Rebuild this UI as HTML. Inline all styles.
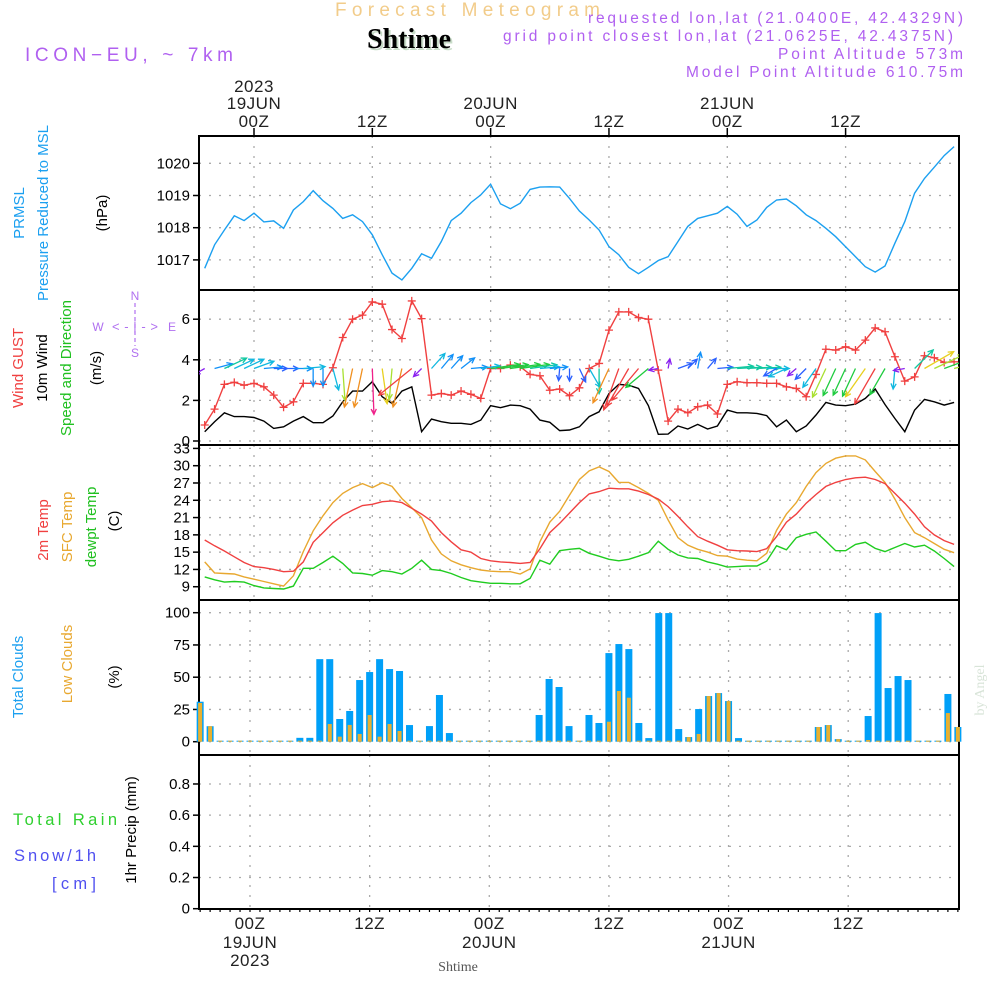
<!DOCTYPE html>
<html><head><meta charset="utf-8">
<style>
html,body{margin:0;padding:0;background:#fff;}
svg{display:block;font-family:"Liberation Sans",sans-serif;}
</style></head>
<body>
<svg id="chart" width="1000" height="1000" viewBox="0 0 1000 1000" xmlns="http://www.w3.org/2000/svg">
  <defs>
    <clipPath id="windClip"><rect x="199" y="290" width="760" height="155"/></clipPath>
  </defs>
  <rect x="0" y="0" width="1000" height="1000" fill="#fff"/>
  <!-- header -->
  <text x="335" y="16" font-size="19" fill="#f2cc8a" textLength="265" lengthAdjust="spacing">Forecast Meteogram</text>
  <text x="411" y="50" text-anchor="middle" font-size="28" font-weight="bold" font-family="Liberation Serif, serif" fill="#c8dcc8">Shtime</text>
  <text x="409" y="48" text-anchor="middle" font-size="28" font-weight="bold" font-family="Liberation Serif, serif" fill="#000">Shtime</text>
  <text x="25" y="61" font-size="19" fill="#b060f0" textLength="208" lengthAdjust="spacing">ICON−EU, ~ 7km</text>
  <text x="588" y="23" font-size="15.5" fill="#b060f0" textLength="375" lengthAdjust="spacing">requested lon,lat (21.0400E, 42.4329N)</text>
  <text x="503" y="41" font-size="15.5" fill="#b060f0" textLength="450" lengthAdjust="spacing">grid point closest lon,lat (21.0625E, 42.4375N)</text>
  <text x="778" y="59" font-size="15.5" fill="#b060f0" textLength="185" lengthAdjust="spacing">Point Altitude 573m</text>
  <text x="686" y="77" font-size="15.5" fill="#b060f0" textLength="277" lengthAdjust="spacing">Model Point Altitude 610.75m</text>

  <!-- left panel labels -->
  <g font-size="15">
    <text transform="translate(24,213) rotate(-90)" text-anchor="middle" fill="#1ca0f0">PRMSL</text>
    <text transform="translate(48,213) rotate(-90)" text-anchor="middle" fill="#1ca0f0">Pressure Reduced to MSL</text>
    <text transform="translate(107,213) rotate(-90)" text-anchor="middle" fill="#000">(hPa)</text>
    <text transform="translate(23,368) rotate(-90)" text-anchor="middle" fill="#f04040">Wind GUST</text>
    <text transform="translate(47,368) rotate(-90)" text-anchor="middle" fill="#000">10m Wind</text>
    <text transform="translate(71,368) rotate(-90)" text-anchor="middle" fill="#20c020">Speed and Direction</text>
    <text transform="translate(101,368) rotate(-90)" text-anchor="middle" fill="#000">(m/s)</text>
    <text transform="translate(48,530) rotate(-90)" text-anchor="middle" fill="#f04040">2m Temp</text>
    <text transform="translate(72,527) rotate(-90)" text-anchor="middle" fill="#e8a830">SFC Temp</text>
    <text transform="translate(96,527) rotate(-90)" text-anchor="middle" fill="#20c020">dewpt Temp</text>
    <text transform="translate(119,521) rotate(-90)" text-anchor="middle" fill="#000">(C)</text>
    <text transform="translate(23,677) rotate(-90)" text-anchor="middle" fill="#1ca0f0">Total Clouds</text>
    <text transform="translate(72,664) rotate(-90)" text-anchor="middle" fill="#e8a830">Low Clouds</text>
    <text transform="translate(119,677) rotate(-90)" text-anchor="middle" fill="#000">(%)</text>
    <text transform="translate(136,830) rotate(-90)" text-anchor="middle" fill="#000">1hr Precip (mm)</text>
  </g>
  <text x="13" y="825" font-size="16.5" fill="#30d030" textLength="104" lengthAdjust="spacing">Total  Rain</text>
  <text x="14" y="861" font-size="16.5" fill="#5050f0" textLength="82" lengthAdjust="spacing">Snow/1h</text>
  <text x="52" y="889" font-size="16.5" fill="#5050f0" textLength="44" lengthAdjust="spacing">[cm]</text>
  <!-- compass -->
  <g fill="#b070f0" font-size="12">
    <text x="135" y="300" text-anchor="middle">N</text>
    <text x="135" y="357" text-anchor="middle">S</text>
    <text x="98" y="331" text-anchor="middle">W</text>
    <text x="172" y="331" text-anchor="middle">E</text>
    <text x="135" y="331" text-anchor="middle" font-size="13" textLength="46" lengthAdjust="spacing">&lt;-|-&gt;</text>
    <line x1="135" y1="303" x2="135" y2="346" stroke="#b070f0" stroke-width="1.2" stroke-dasharray="4,3"/>
  </g>
  <text transform="translate(984,690) rotate(-90)" text-anchor="middle" font-size="14" font-family="Liberation Serif, serif" fill="#d8e4d8">by Angel</text>
  <text x="458" y="971" text-anchor="middle" font-size="14" font-family="Liberation Serif, serif" fill="#555">Shtime</text>
  <g id="layer"></g>
  <g id="windLayer" clip-path="url(#windClip)"></g>
</svg>
<script>
// ---------- data ----------
const hourStart = -5;
const pressure = [1016.74,1017.47,1017.93,1018.37,1018.22,1018.45,1018.18,1018.21,1017.98,1018.55,1018.81,1019.15,1018.84,1018.60,1018.29,1018.40,1018.19,1017.78,1017.16,1016.59,1016.38,1016.74,1017.19,1017.05,1017.57,1018.22,1018.45,1018.78,1019.02,1019.35,1018.74,1018.59,1018.76,1019.19,1019.26,1019.27,1019.26,1018.91,1018.52,1018.24,1017.93,1017.41,1017.16,1016.77,1016.57,1016.77,1016.98,1017.10,1017.57,1018.04,1018.29,1018.37,1018.45,1018.66,1018.42,1018.04,1018.24,1018.63,1018.86,1018.89,1018.68,1018.40,1018.22,1017.98,1017.72,1017.41,1017.10,1016.79,1016.62,1016.81,1017.52,1018.19,1019.07,1019.53,1019.88,1020.24,1020.52];
const windGust = [0.79,1.57,2.79,2.89,2.75,2.84,2.67,2.26,1.66,1.93,2.84,2.84,2.79,3.61,5.1,6.0,6.2,6.85,6.74,5.49,5.05,6.9,6.03,2.26,2.34,2.26,2.46,2.3,2.1,3.57,3.57,3.74,3.66,3.28,3.21,2.5,2.56,2.23,2.62,3.57,3.82,5.46,6.36,6.36,6.08,6.0,3.49,0.98,1.57,1.39,1.69,1.77,1.33,2.79,2.92,2.87,2.87,2.84,2.84,2.67,2.59,2.18,3.28,4.52,4.48,4.64,4.48,4.97,5.57,5.38,4.15,2.95,3.16,4.2,4.1,3.87,3.9];
const windSpeed = [0.46,0.95,1.39,1.2,1.2,1.16,0.98,0.62,0.7,0.98,1.2,0.9,0.9,1.23,1.93,2.46,2.46,2.92,2.18,1.85,2.46,2.67,0.46,1.08,0.95,0.87,0.87,0.82,1.03,1.74,1.64,1.77,1.74,1.57,1.03,0.92,0.51,0.54,0.7,1.2,1.44,2.34,2.79,2.75,2.59,1.74,0.33,0.34,0.74,0.59,0.82,0.59,0.74,1.52,1.39,1.39,1.36,1.25,0.7,1.03,0.46,0.74,1.28,1.9,1.77,1.74,1.82,2.1,2.56,1.8,1.11,0.46,1.52,2.05,1.93,1.77,1.9];
const windToDeg = [210,15,25,25,25,20,5,0,0,0,5,270,270,285,274,258,258,272,278,265,257,219,225,48,50,48,38,5,8,8,8,8,8,8,5,5,265,270,295,300,270,245,250,240,230,220,190,80,20,45,80,50,5,5,3,3,3,0,210,205,220,225,235,245,245,245,245,235,240,240,265,190,45,30,25,20,15];
const temp2m = [17.1,16.1,15.2,14.2,13.2,12.5,12.3,12.0,11.6,11.7,13.3,16.7,18.4,20.1,21.4,22.3,23.1,23.3,23.75,23.9,23.6,22.6,21.6,20.4,18.4,16.8,15.4,15.0,13.9,13.5,13.3,13.2,13.05,13.2,15.6,18.4,20.0,21.8,23.6,25.1,25.5,26.1,26.0,26.0,25.6,25.0,24.2,22.9,21.2,19.4,17.7,16.9,16.2,15.4,15.25,15.2,15.1,15.6,17.7,20.2,21.6,23.5,25.0,26.4,27.1,27.6,27.9,28.0,27.6,26.9,25.2,23.5,21.6,19.4,18.0,17.0,16.35];
const tempSfc = [13.3,11.4,11.3,11.2,10.7,10.3,9.9,9.5,9.1,10.9,15.1,18.7,21.3,23.6,25.2,26.2,26.9,26.2,27.05,26.4,24.3,22.7,21.0,17.1,14.7,13.5,12.8,12.3,11.9,11.7,11.6,11.6,11.2,12.1,16.8,20.2,22.1,24.9,27.6,29.1,29.8,29.0,27.1,27.1,26.2,25.2,24.0,20.6,17.5,16.2,15.5,15.0,14.4,14.3,13.8,13.6,13.5,14.8,18.8,21.6,23.6,26.4,28.8,30.4,31.3,31.7,31.7,31.0,29.0,27.1,24.2,21.0,18.4,17.5,16.5,15.5,14.9];
const dewpoint = [10.7,10.2,9.8,9.9,9.8,9.2,8.8,8.7,8.6,9.1,12.2,12.2,13.2,14.3,13.05,11.4,11.3,11.0,11.8,11.6,11.2,12.2,13.6,12.0,11.8,11.3,10.6,10.05,9.8,9.6,9.6,9.5,9.5,10.45,13.6,12.9,15.25,15.5,15.65,14.8,14.3,13.75,13.5,13.75,14.3,14.9,16.9,15.5,14.5,14.0,13.9,13.3,12.9,12.4,12.5,12.6,12.6,13.45,16.1,15.4,17.5,18.1,18.5,16.9,15.25,15.25,16.35,16.7,15.65,15.1,15.8,16.5,15.9,16.2,15.2,13.9,12.5];
const totalClouds = [31,12,0,0,0,0,0,0,0,0,3,3,64,64,17.6,23.8,47.8,54,64,56.3,54.8,12.9,0,12.1,36.2,6.7,0,0,0,0,0,0,0,0,20.7,48.6,42.4,12.1,0,20.7,14.5,68.7,75.7,71.8,14.5,2.8,99.7,99.7,9.8,3.6,25.3,35.4,37.7,31.5,2.8,0,0,0,0,0,0,0,11.4,12.9,2,0,0,19.9,99.7,41.6,50.9,47.8,0,0,0,37,11.4];
const lowClouds = [30,12,0,0,0,0,0,0,0,0,0,0,0.5,13.7,3.9,13,6,20.7,3.9,13.7,8.3,0,0,0,0,0,0,0,0,0,0,0,0,0,0,0,0,0,0,0,0,15.5,39.3,34.1,0,0,0,0,0,3.6,6,35.4,37.7,31.5,0,0,0,0,0,0,0,0,11.4,12.9,2,0,0,1.3,0,0,0,0,0,0,0,22.2,11.4];
const precip = [0,0,0,0,0,0,0,0,0,0,0,0,0,0,0,0,0,0,0,0,0,0,0,0,0,0,0,0,0,0,0,0,0,0,0,0,0,0,0,0,0,0,0,0,0,0,0,0,0,0,0,0,0,0,0,0,0,0,0,0,0,0,0,0,0,0,0,0,0,0,0,0,0,0,0,0,0];
const pressureTicks = [1017,1018,1019,1020];
const windTicks = [0,2,4,6];
const tempTicks = [9,12,15,18,21,24,27,30,33];
const cloudTicks = [0,25,50,75,100];
const precipTicks = [0,0.2,0.4,0.6,0.8];
const timeTicks = [0,12,24,36,48,60];
const topTickLabels = [["2023","19JUN","00Z"],["","","12Z"],["","20JUN","00Z"],["","","12Z"],["","21JUN","00Z"],["","","12Z"]];
const bottomTickLabels = [["00Z","19JUN","2023"],["12Z","",""],["00Z","20JUN",""],["12Z","",""],["00Z","21JUN",""],["12Z","",""]];

// ---------- geometry ----------
const L = 199, R = 959;
const panels = {p:[136,290], w:[290,445], t:[445,600], c:[600,755], r:[755,909]};
const xU = h => 254 + 9.86*h;
const xL = h => 250 + 9.97*h;
const yP = v => 163.3 + (1020 - v)*32.2;
const yW = v => 441 - v*20.3;
const yT = v => 465.7 + (30 - v)*5.763;
const yC = v => 741.7 - v*1.29;
const yR = v => 908.7 - v*155.9;

const NS = "http://www.w3.org/2000/svg";
const layer = document.getElementById('layer');
const windLayer = document.getElementById('windLayer');
function mk(tag, attrs, parent){
  const e = document.createElementNS(NS, tag);
  for (const k in attrs) e.setAttribute(k, attrs[k]);
  (parent||layer).appendChild(e);
  return e;
}

function hgrid(ticks, yf, name){
  ticks.forEach(v=>{
    const y = yf(v);
    const g = mk('line',{x1:L,x2:R,y1:y,y2:y,stroke:'#aaa','stroke-width':1.3,'stroke-dasharray':'2,8'});
    
    
    const t = mk('line',{x1:L-6,x2:L,y1:y,y2:y,stroke:'#000','stroke-width':1.5});
    
    
    const lb = mk('text',{x:L-9,y:y+5,'text-anchor':'end','font-size':15,fill:'#000'});
    lb.textContent = String(v);
    
    
  });
}
hgrid(pressureTicks, yP, 'pressure');
hgrid(windTicks, yW, 'wind');
hgrid(tempTicks, yT, 'temp');
hgrid(cloudTicks, yC, 'clouds');
hgrid(precipTicks, yR, 'precip');

timeTicks.forEach(h=>{
  [['p',xU],['w',xU],['t',xU],['c',xL],['r',xL]].forEach(([k,xf])=>{
    const x = xf(h);
    const v = mk('line',{x1:x,x2:x,y1:panels[k][0],y2:panels[k][1],stroke:'#aaa','stroke-width':1.3,'stroke-dasharray':'2,8'});
    
    
  });
});

Object.keys(panels).forEach(k=>{
  const [a,b] = panels[k];
  const r = mk('rect',{x:L,y:a,width:R-L,height:b-a,fill:'none',stroke:'#000','stroke-width':2});
  
  
});

timeTicks.forEach((h,i)=>{
  const x = xU(h);
  const t = mk('line',{x1:x,x2:x,y1:128,y2:136,stroke:'#000','stroke-width':1.5});
  
  
  topTickLabels[i].forEach((s,j)=>{
    if(!s) return;
    const tx = mk('text',{x:x,y:[92,109,127][j],'text-anchor':'middle','font-size':17,fill:'#222','letter-spacing':'0.5'});
    tx.textContent = s;
    
    
  });
  const xb = xL(h);
  bottomTickLabels[i].forEach((s,j)=>{
    if(!s) return;
    const tx = mk('text',{x:xb,y:[929,948,966][j],'text-anchor':'middle','font-size':17,fill:'#222','letter-spacing':'0.5'});
    tx.textContent = s;
    
    
  });
});
for(let h=-5; h<=71; h++){
  const x = xL(h);
  const t = mk('line',{x1:x,x2:x,y1:909,y2:912,stroke:'#000','stroke-width':1.2});
  
  
}

function series(arr, yf, color, name){
  const pts = arr.map((v,i)=> xU(hourStart+i).toFixed(1)+','+yf(v).toFixed(1)).join(' ');
  const pl = mk('polyline',{points:pts,fill:'none',stroke:color,'stroke-width':1.4});
  
  
  return pl;
}
series(pressure, yP, '#1ca0f0', 'pressure-line');
series(windSpeed, yW, '#000', 'wind-speed-line');
series(windGust, yW, '#f04040', 'wind-gust-line');
windGust.forEach((v,i)=>{
  const x = xU(hourStart+i), y = yW(v);
  const m = mk('path',{d:`M${x-4},${y}H${x+4}M${x},${y-4}V${y+4}`,stroke:'#f04040','stroke-width':1.3,fill:'none'});
  
  
});

function speedColor(s){
  if(s<0.5) return '#8a20f0';
  if(s<0.8) return '#2a60ff';
  if(s<1.0) return '#1090f8';
  if(s<1.3) return '#10b8e0';
  if(s<1.6) return '#10c8a0';
  if(s<1.85) return '#20cc40';
  if(s<2.0) return '#a8e030';
  if(s<2.3) return '#e8d020';
  if(s<2.55) return '#f09020';
  if(s<2.85) return '#f04040';
  return '#f0208a';
}
const baseY = 368.5;
windSpeed.forEach((s,i)=>{
  const x = xU(hourStart+i);
  const a = windToDeg[i]*Math.PI/180;
  const len = 5 + 14*s;
  const x2 = x + len*Math.cos(a), y2 = baseY - len*Math.sin(a);
  const hl = 6, ha = 0.45;
  const b1x = x2 - hl*Math.cos(a-ha), b1y = y2 + hl*Math.sin(a-ha);
  const b2x = x2 - hl*Math.cos(a+ha), b2y = y2 + hl*Math.sin(a+ha);
  const p = mk('path',{d:`M${x},${baseY}L${x2},${y2}M${b1x},${b1y}L${x2},${y2}L${b2x},${b2y}`,stroke:speedColor(s),'stroke-width':1.3,fill:'none'}, windLayer);
  
  
});

series(tempSfc, yT, '#e8a830', 'sfc-temp-line');
series(temp2m, yT, '#f04040', 'temp-2m-line');
series(dewpoint, yT, '#20cc20', 'dewpoint-line');

totalClouds.forEach((v,i)=>{
  const x = xL(hourStart+i);
  const h = Math.max(v*1.29, 1);
  const r = mk('rect',{x:x-3.5,y:741.7-h,width:7,height:h,fill:'#00a0f8'});
  
  
});
lowClouds.forEach((v,i)=>{
  const x = xL(hourStart+i);
  const h = Math.max(v*1.29, 1);
  const r = mk('rect',{x:x-2,y:741.7-h,width:4,height:h,fill:'#e8b030'});
  
  
});
precip.forEach((v,i)=>{
  if(v<=0) return;
  const x = xL(hourStart+i);
  const r = mk('rect',{x:x-3.5,y:yR(v),width:7,height:908.7-yR(v),fill:'#30d030'});
  
  
});
</script>
</body></html>
